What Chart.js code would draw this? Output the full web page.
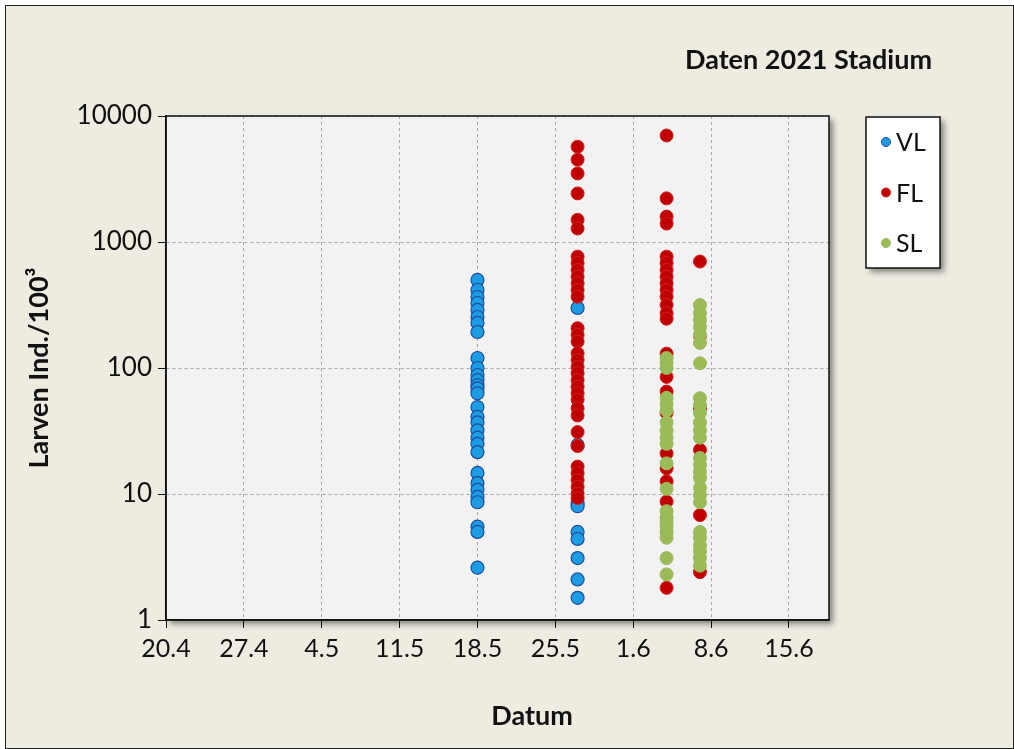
<!DOCTYPE html>
<html>
<head>
<meta charset="utf-8">
<script src="https://cdn.jsdelivr.net/npm/chart.js@4.4.1/dist/chart.umd.min.js"></script>
<style>
  html, body { margin: 0; padding: 0; background: #ffffff; }
  #wrap { width: 1014px; height: 749px; }
</style>
</head>
<body>
<div id="wrap"><canvas id="c" width="1014" height="749"></canvas></div>
<script>
// Weekly date ticks (day.month), first tick = 20 April 2021
const dateTicks = ['20.4', '27.4', '4.5', '11.5', '18.5', '25.5', '1.6', '8.6', '15.6'];
// Sampling dates
const sampleDates = ['18.5', '27.5', '4.6', '7.6'];

// Larvae per 100 m³, one list per sampling date
const vlValues = [
  [500, 416, 366, 328, 289, 254, 228, 193, 120, 100, 88, 80, 73, 69, 63, 49, 41, 37, 32, 28, 25, 21.5, 14.7, 12.2, 10.8, 9.5, 8.6, 5.5, 5.0, 2.6],
  [300, 24.5, 8.5, 8, 5, 4.4, 3.1, 2.1, 1.5],
  [],
  []
];
const flValues = [
  [],
  [5700, 4500, 3500, 2430, 1500, 1280, 765, 680, 600, 530, 470, 416, 368, 207, 183, 162, 131, 116, 102, 91, 80, 71, 63, 56, 48, 42, 31, 24, 16.5, 14.6, 12.9, 11.4, 10.1, 9.3],
  [7000, 2220, 1590, 1400, 765, 680, 600, 530, 470, 416, 368, 316, 272, 246, 130, 85, 65, 44, 21, 16, 12.6, 8.7, 1.8],
  [700, 180, 48, 22.4, 6.8, 2.4]
];
const slValues = [
  [],
  [],
  [120, 110, 100, 58, 52, 46, 37, 32, 28, 25, 17.5, 11, 7.3, 6.5, 6, 5.5, 5, 4.5, 3.1, 2.3],
  [316, 272, 240, 211, 183, 158, 109, 57.6, 50.6, 44, 37, 32, 28, 19.3, 17, 15, 13.4, 11.2, 9.8, 8.6, 5, 4.5, 3.9, 3.5, 3.1, 2.7]
];

const yTickValues = [1, 10, 100, 1000, 10000];

// days since the first tick date
function dayOf(label) {
  const [d, m] = label.split('.').map(Number);
  return Math.round((Date.UTC(2021, m - 1, d) - Date.UTC(2021, 3, 20)) / 86400000);
}
function toPoints(lists) {
  const pts = [];
  lists.forEach((vals, i) => {
    const x = dayOf(sampleDates[i]);
    vals.forEach(v => pts.push({ x: x, y: v }));
  });
  return pts;
}

const FONT = 'Lato, "Open Sans", sans-serif';

const frame = {
  id: 'frame',
  beforeDraw(chart) {
    const { ctx, chartArea: a } = chart;
    ctx.save();
    ctx.fillStyle = '#ffffff';
    ctx.fillRect(0, 0, chart.width, chart.height);
    ctx.fillStyle = '#EEECE1';
    ctx.fillRect(5.5, 5.5, chart.width - 6, chart.height - 6);
    ctx.strokeStyle = '#222';
    ctx.lineWidth = 1;
    ctx.strokeRect(5.5, 5.5, chart.width - 6, chart.height - 6);
    // plot area with soft shadow
    ctx.shadowColor = 'rgba(0,0,0,0.45)';
    ctx.shadowBlur = 6;
    ctx.shadowOffsetX = 4;
    ctx.shadowOffsetY = 4;
    ctx.fillStyle = '#F2F2F2';
    ctx.fillRect(a.left, a.top, a.right - a.left, a.bottom - a.top);
    ctx.restore();
  },
  beforeDatasetsDraw(chart) {
    const { ctx, chartArea: a } = chart;
    ctx.save();
    ctx.strokeStyle = '#111';
    ctx.lineWidth = 1.5;
    ctx.strokeRect(a.left, a.top, a.right - a.left, a.bottom - a.top);
    ctx.restore();
  },
  afterDraw(chart) {
    const { ctx } = chart;
    ctx.save();
    ctx.fillStyle = '#111';
    ctx.textBaseline = 'middle';
    // heading
    ctx.font = 'bold 27px ' + FONT;
    ctx.textAlign = 'right';
    ctx.fillText('Daten 2021 Stadium', 932, 60);
    // x axis caption
    ctx.textAlign = 'center';
    ctx.fillText('Datum', 532, 716);
    // legend box
    const bx = 866, by = 117, bw = 74, bh = 151;
    ctx.save();
    ctx.shadowColor = 'rgba(0,0,0,0.45)';
    ctx.shadowBlur = 6;
    ctx.shadowOffsetX = 4;
    ctx.shadowOffsetY = 4;
    ctx.fillStyle = '#ffffff';
    ctx.fillRect(bx, by, bw, bh);
    ctx.restore();
    ctx.strokeStyle = '#111';
    ctx.lineWidth = 1.5;
    ctx.strokeRect(bx, by, bw, bh);
    ctx.font = '25px ' + FONT;
    ctx.textAlign = 'left';
    chart.data.datasets.forEach((ds, i) => {
      const cy = 142 + i * 50.5;
      ctx.beginPath();
      ctx.arc(886, cy, 4.5, 0, Math.PI * 2);
      ctx.fillStyle = ds.backgroundColor;
      ctx.fill();
      ctx.lineWidth = 1;
      ctx.strokeStyle = ds.borderColor;
      ctx.stroke();
      ctx.fillStyle = '#111';
      ctx.fillText(ds.label, 896, cy + 1);
    });
    ctx.restore();
  }
};

const gridStyle = { color: '#A8A8A8', tickLength: 8, tickColor: '#111', tickBorderDash: [], tickWidth: 1 };
const axisBorder = { display: true, color: '#111', width: 1.5, dash: [3, 3] };

new Chart(document.getElementById('c'), {
  type: 'scatter',
  data: {
    datasets: [
      { label: 'VL', data: toPoints(vlValues), backgroundColor: '#1E9CE3', borderColor: '#1B4F9E', borderWidth: 1.2, pointRadius: 6.5, order: 3 },
      { label: 'FL', data: toPoints(flValues), backgroundColor: '#C00000', borderColor: '#D42020', borderWidth: 1, pointRadius: 6.5, order: 2 },
      { label: 'SL', data: toPoints(slValues), backgroundColor: '#9BBB59', borderColor: '#9BBB59', borderWidth: 1, pointRadius: 6.5, order: 1 }
    ]
  },
  options: {
    responsive: false,
    animation: false,
    layout: { padding: { left: 20, right: 185, top: 116, bottom: 14 } },
    plugins: { legend: { display: false }, tooltip: { enabled: false }, title: { display: false } },
    scales: {
      x: {
        type: 'linear',
        min: 0,
        max: 59.6,
        afterBuildTicks(scale) { scale.ticks = dateTicks.map((_, i) => ({ value: i * 7 })); },
        afterFit(scale) { scale.height = 749 - 14 - 620; },
        ticks: {
          autoSkip: false,
          maxRotation: 0,
          padding: 6,
          color: '#111',
          font: { family: FONT, size: 25 },
          callback: v => dateTicks[Math.round(v / 7)]
        },
        grid: gridStyle,
        border: axisBorder,
        title: { display: false }
      },
      y: {
        type: 'logarithmic',
        min: 1,
        max: 10000,
        afterBuildTicks(scale) { scale.ticks = yTickValues.map(v => ({ value: v })); },
        afterFit(scale) { scale.width = 166 - 20; },
        ticks: {
          padding: 6,
          color: '#111',
          font: { family: FONT, size: 26 },
          callback: v => String(v)
        },
        grid: gridStyle,
        border: axisBorder,
        title: { display: true, text: 'Larven Ind./100³', color: '#111', font: { family: FONT, size: 27, weight: 'bold' }, padding: { top: 3, bottom: 0 } }
      }
    }
  },
  plugins: [frame]
});
</script>
</body>
</html>
